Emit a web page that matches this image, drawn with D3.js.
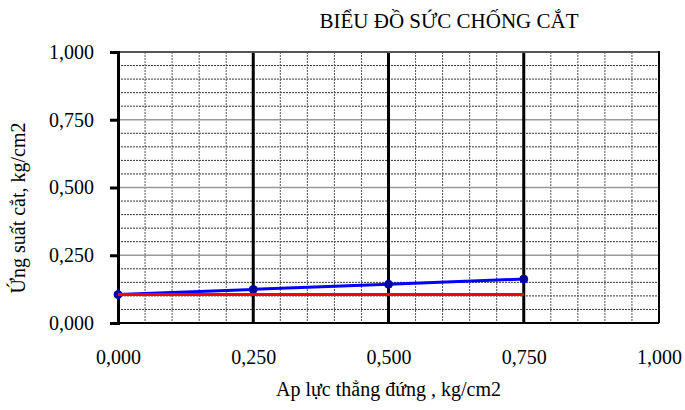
<!DOCTYPE html>
<html>
<head>
<meta charset="utf-8">
<script src="https://cdn.jsdelivr.net/npm/d3@7/dist/d3.min.js"></script>
<style>
  html, body { margin: 0; padding: 0; background: #fff; }
  svg { display: block; font-family: "Liberation Serif", "Times New Roman", serif; }
</style>
</head>
<body>
<svg id="chart" width="685" height="410"></svg>
<script>
// Normal stress (x) at each test point, kg/cm2
const normalStress = [0, 0.25, 0.5, 0.75];
// Measured shear strength, kg/cm2
const shearStrength = [0.105, 0.124, 0.143, 0.162];
// Reference (residual) line, kg/cm2
const residualLine = [0.105, 0.105, 0.105, 0.105];

const xTicks = [0, 0.25, 0.5, 0.75, 1.0];
const yTicks = [0, 0.25, 0.5, 0.75, 1.0];
const minorStep = 0.05;

const titleText = "BIỂU ĐỒ SỨC CHỐNG CẮT";
const xTitle = "Ap lực thẳng đứng , kg/cm2";
const yTitle = "Ứng suất cắt, kg/cm2";

const fmt = v => d3.format(".3f")(v).replace(".", ",");

const svg = d3.select("#chart");
const plot = { left: 118, right: 659, top: 52, bottom: 323 };

const x = d3.scaleLinear().domain([0, 1]).range([plot.left, plot.right]);
const y = d3.scaleLinear().domain([0, 1]).range([plot.bottom, plot.top]);

const minor = d3.range(0, 1.0001, minorStep).filter(v => Math.abs(v / 0.25 - Math.round(v / 0.25)) > 1e-6);

// minor grid, dashed
svg.append("g").selectAll("line").data(minor).join("line")
  .attr("x1", plot.left).attr("x2", plot.right)
  .attr("y1", d => y(d)).attr("y2", d => y(d))
  .attr("stroke", "#333").attr("stroke-width", 1).attr("stroke-dasharray", "2,1");
svg.append("g").selectAll("line").data(minor).join("line")
  .attr("y1", plot.top).attr("y2", plot.bottom)
  .attr("x1", d => x(d)).attr("x2", d => x(d))
  .attr("stroke", "#555").attr("stroke-width", 1).attr("stroke-dasharray", "2,1");

// major horizontal grid, light solid
svg.append("g").selectAll("line").data(yTicks.slice(1, -1)).join("line")
  .attr("x1", plot.left).attr("x2", plot.right)
  .attr("y1", d => y(d)).attr("y2", d => y(d))
  .attr("stroke", "#999").attr("stroke-width", 1.5);

// major vertical grid, heavy black
svg.append("g").selectAll("line").data(xTicks.slice(1, -1)).join("line")
  .attr("y1", plot.top).attr("y2", plot.bottom)
  .attr("x1", d => x(d)).attr("x2", d => x(d))
  .attr("stroke", "#000").attr("stroke-width", 3);

// frame
svg.append("line").attr("x1", plot.left).attr("x2", plot.right)
  .attr("y1", plot.top).attr("y2", plot.top).attr("stroke", "#555").attr("stroke-width", 2);
svg.append("line").attr("x1", plot.right).attr("x2", plot.right)
  .attr("y1", plot.top - 1).attr("y2", plot.bottom).attr("stroke", "#000").attr("stroke-width", 2);
svg.append("line").attr("x1", plot.left).attr("x2", plot.right)
  .attr("y1", plot.bottom).attr("y2", plot.bottom).attr("stroke", "#000").attr("stroke-width", 2);

// y axis
const yAxis = d3.axisLeft(y).tickValues(yTicks).tickFormat(fmt).tickSize(8).tickPadding(16);
const gy = svg.append("g").attr("transform", `translate(${plot.left},0)`).call(yAxis);
gy.select(".domain").attr("stroke", "#000").attr("stroke-width", 3);
gy.selectAll(".tick line").attr("stroke", "#000").attr("stroke-width", 3);
gy.selectAll(".tick text").attr("font-size", 20).attr("fill", "#000")
  .attr("font-family", "Liberation Serif, serif");

// x axis labels
const xAxis = d3.axisBottom(x).tickValues(xTicks).tickFormat(fmt).tickSize(0).tickPadding(27);
const gx = svg.append("g").attr("transform", `translate(0,${plot.bottom})`).call(xAxis);
gx.select(".domain").remove();
gx.selectAll(".tick text").attr("font-size", 20).attr("fill", "#000")
  .attr("font-family", "Liberation Serif, serif");

// series
const pts = (ys) => normalStress.map((v, i) => [v, ys[i]]);
const line = d3.line().x(d => x(d[0])).y(d => y(d[1]));

svg.append("path").datum(pts(shearStrength)).attr("d", line)
  .attr("fill", "none").attr("stroke", "#0000ff").attr("stroke-width", 3);
svg.append("g").selectAll("circle").data(pts(shearStrength)).join("circle")
  .attr("cx", d => x(d[0])).attr("cy", d => y(d[1])).attr("r", 4)
  .attr("fill", "#000099").attr("stroke", "#0000cc");
svg.append("path").datum(pts(residualLine)).attr("d", line)
  .attr("fill", "none").attr("stroke", "#ff0000").attr("stroke-width", 3);

// titles
svg.append("text").attr("x", 449).attr("y", 28).attr("text-anchor", "middle")
  .attr("font-size", 21).text(titleText);
svg.append("text").attr("x", (plot.left + plot.right) / 2).attr("y", 396).attr("text-anchor", "middle")
  .attr("font-size", 20).text(xTitle);
svg.append("text").attr("transform", `translate(25,208) rotate(-90)`)
  .attr("text-anchor", "middle").attr("font-size", 20).text(yTitle);
</script>
</body>
</html>
